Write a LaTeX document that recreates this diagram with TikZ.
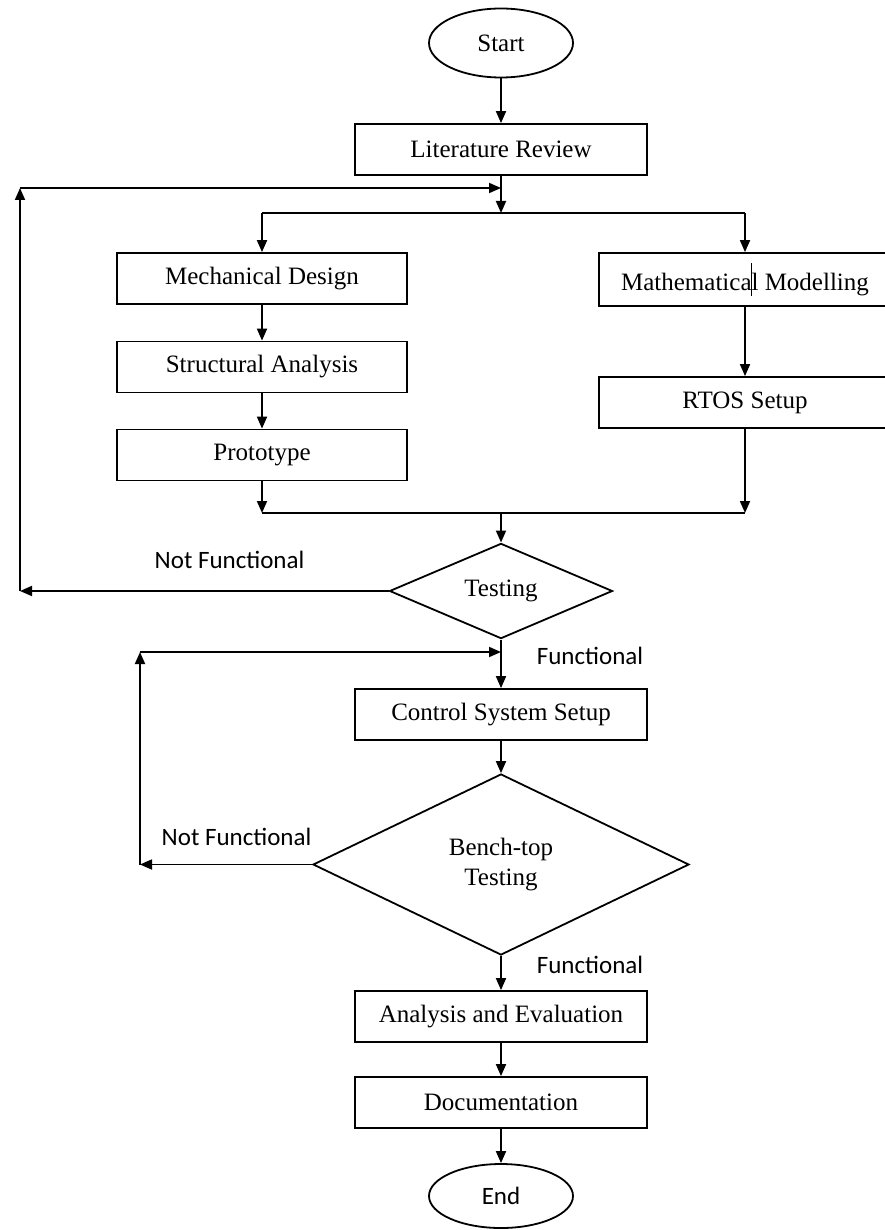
\documentclass[tikz,border=0pt]{standalone}
\usepackage{fontspec}
\setmainfont{Liberation Serif}
\newfontfamily\lblfont{Carlito}
\usetikzlibrary{shapes.geometric,arrows.meta}
\begin{document}
\begin{tikzpicture}[x=0.5pt,y=-0.5pt,
  every node/.style={font=\fontsize{12.5}{15}\selectfont},
  lw/.style={line width=0.9pt},
  procbox/.style={draw, lw, inner sep=0pt, minimum width=146pt, minimum height=25.5pt},
  term/.style={draw, lw, ellipse, inner sep=0pt, minimum width=72pt, minimum height=33pt},
  decide/.style={draw, lw, diamond, inner sep=0pt, align=center},
  lbl/.style={font=\lblfont\fontsize{12.5}{15}\selectfont, inner sep=0pt},
  arr/.style={lw, -{Triangle[length=6pt,width=5pt]}},
  ln/.style={lw}
]
\useasboundingbox (0,0) rectangle (884,1230);

% nodes
\node[term, minimum height=34.5pt] (start) at (501,43) {Start};
\node[procbox] (lit) at (501,149.5) {Literature Review};
\node[procbox, minimum width=145pt] (mech) at (262,278.5) {Mechanical Design};
\node[procbox, minimum width=145pt] (struct) at (262,367) {Structural Analysis};
\node[procbox, minimum width=145pt] (proto) at (262,455) {Prototype};
\node[procbox, minimum height=26.5pt] (math) at (745,279.5) {Mathematica\makebox[0pt]{\rule[-0.5ex]{0.6pt}{2.9ex}}l Modelling};
\node[procbox] (rtos) at (745,402.5) {RTOS Setup};
\node[decide, minimum width=111.5pt, minimum height=45pt] (test) at (501,591) {Testing};
\node[procbox] (ctrl) at (501,714.5) {Control System Setup};
\node[decide, minimum width=188pt, minimum height=90.5pt] (bench) at (501,864.5) {Bench-top\\Testing};
\node[procbox] (anal) at (501,1016.5) {Analysis and Evaluation};
\node[procbox] (doc) at (501,1102.5) {Documentation};
\node[term, minimum height=32pt] (end) at (501,1196) {\lblfont End};

% labels
\node[lbl] (nf1) at (229.5,560) {Not Functional};
\node[lbl] (f1) at (590,656) {Functional};
\node[lbl] (nf2) at (236.5,837) {Not Functional};
\node[lbl] (f2) at (590,965) {Functional};

% junction coordinates
\coordinate (split) at (501,213);
\coordinate (spL) at (262,213);
\coordinate (spR) at (745,213);
\coordinate (mgL) at (262,513);
\coordinate (mgR) at (745,513);
\coordinate (mgM) at (501,513);
\coordinate (fb1a) at (20,591);
\coordinate (fb1b) at (20,188);
\coordinate (fb1c) at (501,188);
\coordinate (fb2a) at (140,864.5);
\coordinate (fb2b) at (140,652);
\coordinate (fb2c) at (501,652);

% connectors
\draw[arr] (start) -- (lit);
\draw[arr] (lit) -- (split);
\draw[ln] (spL) -- (spR);
\draw[arr] (spL) -- (mech);
\draw[arr] (spR) -- (math);
\draw[arr] (mech) -- (struct);
\draw[arr] (struct) -- (proto);
\draw[arr] (math) -- (rtos);
\draw[arr] (proto) -- (mgL);
\draw[arr] (rtos) -- (mgR);
\draw[ln] (mgL) -- (mgR);
\draw[arr] (mgM) -- (test);
\draw[arr] (test.west) -- (fb1a);
\draw[arr] (fb1a) -- (fb1b);
\draw[arr] (fb1b) -- (fb1c);
\draw[arr] (test) -- (ctrl);
\draw[arr] (ctrl) -- (bench);
\draw[arr] (bench.west) -- (fb2a);
\draw[arr] (fb2a) -- (fb2b);
\draw[arr] (fb2b) -- (fb2c);
\draw[arr] (bench) -- (anal);
\draw[arr] (anal) -- (doc);
\draw[arr] (doc) -- (end);
\end{tikzpicture}
\end{document}
